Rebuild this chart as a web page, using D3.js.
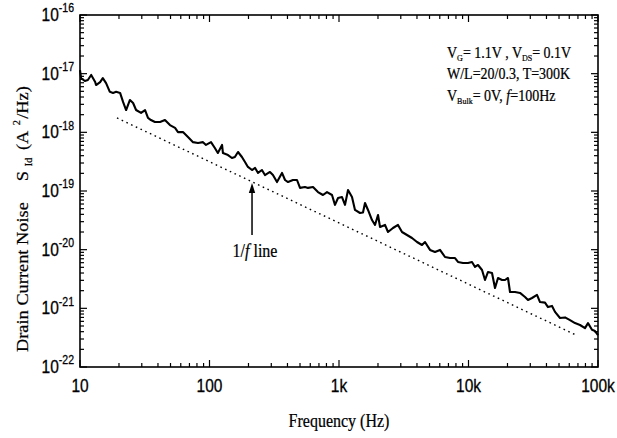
<!DOCTYPE html>
<html>
<head>
<meta charset="utf-8">
<script src="https://cdn.jsdelivr.net/npm/d3@7"></script>
<style>
  html, body { margin: 0; padding: 0; background: #fff; }
  svg { display: block; }
</style>
</head>
<body>
<svg id="chart" width="617" height="438"></svg>
<script>
// ---- Data ----
const freqHz = [10,10.2,10.9,11.5,12.2,13.1,13.3,14.3,15.0,15.9,17.0,18.0,19.0,20.4,21.5,22.7,24.3,25.7,27.1,29.6,31.8,33.5,35.3,37.9,41.5,45.3,49.5,54.2,57.1,62.4,68.2,74.6,81.5,89.1,94.0,102.7,110,116,125,127,139,149,157,166,178,188,198,213,225,237,254,268,293,309,332,363,383,404,441,474,500,546,576,630,688,752,808,883,931,983,1055,1113,1174,1260,1329,1453,1532,1588,1675,1798,1897,2001,2073,2266,2390,2612,2855,3065,3350,3662,4003,4375,4615,5044,5512,6025,6585,7196,7866,8297,9068,9911,10640,11230,11840,12720,13410,14150,15190,16020,16900,18150,19140,20180,20920,22870,24990,27320,28810,30930,33810,35660,38970,41110,44140,46560,50890,55630,60790,66440,72610,79350,83720,89880,94810,100000];
const noiseSId = [1.15e-17,8.4e-18,7.5e-18,7.8e-18,9.5e-18,7.2e-18,6.4e-18,7.2e-18,8.4e-18,6.9e-18,4.9e-18,4.7e-18,4.9e-18,4.7e-18,3.3e-18,2.4e-18,3.56e-18,3.16e-18,2.4e-18,2.14e-18,2.4e-18,1.76e-18,1.62e-18,1.5e-18,1.5e-18,1.62e-18,1.33e-18,1.19e-18,1.01e-18,1.01e-18,8.3e-19,6.8e-19,6.6e-19,6.8e-19,6.1e-19,6.8e-19,5.4e-19,4.44e-19,6.1e-19,4.44e-19,4.1e-19,3.65e-19,3.8e-19,4.62e-19,3.8e-19,3.12e-19,2.57e-19,2.28e-19,2.47e-19,2.03e-19,2.28e-19,1.87e-19,2.11e-19,1.87e-19,1.42e-19,2.03e-19,1.54e-19,1.42e-19,1.54e-19,1.54e-19,1.13e-19,1.17e-19,1.13e-19,1.17e-19,9.6e-20,8.55e-20,9.6e-20,8.55e-20,5.8e-20,7.6e-20,7.9e-20,5.8e-20,1.04e-19,7.9e-20,4.75e-20,4.22e-20,4.3e-20,6.25e-20,4.75e-20,3.2e-20,2.64e-20,3.9e-20,2.44e-20,2.64e-20,2.0e-20,2.34e-20,2.64e-20,2.0e-20,1.78e-20,1.58e-20,1.35e-20,1.2e-20,1.35e-20,9.9e-21,9.1e-21,9.9e-21,7.5e-21,7.2e-21,7.2e-21,6.17e-21,5.93e-21,5.93e-21,6.17e-21,5.07e-21,5.48e-21,4.5e-21,3.04e-21,4.17e-21,4.0e-21,2.22e-21,3.29e-21,3.04e-21,3.04e-21,3.29e-21,1.9e-21,1.9e-21,1.83e-21,1.56e-21,1.39e-21,1.5e-21,1.69e-21,1.28e-21,1.25e-21,1.05e-21,1.1e-21,8.7e-22,6.85e-22,7.0e-22,6.3e-22,5.6e-22,5.2e-22,4.6e-22,5.6e-22,4.3e-22,4.1e-22,3.5e-22];

// 1/f reference line endpoints
const refFreq = [19.3, 66000];
const refNoise = [1.76e-18, 3.6e-22];

// Arrow annotation (frequency, tail value, tip value)
const arrowFreq = 213;
const arrowNoise = [1.78e-20, 1.37e-19];

// Axis ticks
const xDomain = [10, 1e5];
const yDomain = [1e-22, 1e-16];
const xTickValues = [10, 100, 1000, 10000, 100000];
const xTickLabels = ["10", "100", "1k", "10k", "100k"];
const yTickValues = [1e-16, 1e-17, 1e-18, 1e-19, 1e-20, 1e-21, 1e-22];
const yTickExponents = ["-16", "-17", "-18", "-19", "-20", "-21", "-22"];

// ---- Layout ----
const W = 617, H = 438;
const L = 80, R = 598, T = 15, B = 367;
const SY = 1.16; // vertical stretch of glyphs in the reference
const svg = d3.select("#chart");
svg.append("rect").attr("width", W).attr("height", H).attr("fill", "#fff");

const x = d3.scaleLog().domain(xDomain).range([L, R]);
const y = d3.scaleLog().domain(yDomain).range([B, T]);

const serif = "'Liberation Serif','Times New Roman',Times,serif";
const sans = "'Liberation Sans',Arial,Helvetica,sans-serif";

// ---- Ticks on all four sides (inward) ----
const isMajor = v => Math.abs(Math.log10(v) - Math.round(Math.log10(v))) < 1e-9;
const xt = x.ticks();
const yt = y.ticks();
const tickG = svg.append("g").attr("stroke", "#000").attr("stroke-width", 1.2);
xt.forEach(v => {
  const len = isMajor(v) ? 7 : 4;
  const px = x(v);
  tickG.append("line").attr("x1", px).attr("x2", px).attr("y1", B).attr("y2", B - len);
  tickG.append("line").attr("x1", px).attr("x2", px).attr("y1", T).attr("y2", T + len);
});
yt.forEach(v => {
  const len = isMajor(v) ? 7 : 4;
  const py = y(v);
  tickG.append("line").attr("x1", L).attr("x2", L + len).attr("y1", py).attr("y2", py);
  tickG.append("line").attr("x1", R).attr("x2", R - len).attr("y1", py).attr("y2", py);
});

// Frame
svg.append("rect").attr("x", L).attr("y", T).attr("width", R - L).attr("height", B - T)
  .attr("fill", "none").attr("stroke", "#000").attr("stroke-width", 1.6);

// ---- Tick labels ----
xTickValues.forEach((v, i) => {
  svg.append("text")
    .attr("transform", `translate(${x(v)},${B + 25}) scale(1,${SY})`)
    .attr("text-anchor", "middle")
    .attr("font-family", sans).attr("font-size", 15.5)
    .attr("stroke", "#000").attr("stroke-width", 0.25)
    .text(xTickLabels[i]);
});
yTickValues.forEach((v, i) => {
  const t = svg.append("text")
    .attr("transform", `translate(${L - 6},${y(v) + 6}) scale(1,${SY})`)
    .attr("text-anchor", "end")
    .attr("font-family", sans).attr("font-size", 15.5)
    .attr("stroke", "#000").attr("stroke-width", 0.25);
  t.append("tspan").text("10");
  t.append("tspan").attr("font-size", 10.5).attr("dy", -7.5).text(yTickExponents[i]);
});

// ---- Axis titles ----
svg.append("text")
  .attr("transform", `translate(${(L + R) / 2},${B + 60}) scale(1,${SY})`)
  .attr("text-anchor", "middle")
  .attr("font-family", serif).attr("font-size", 16)
  .attr("stroke", "#000").attr("stroke-width", 0.2)
  .text("Frequency (Hz)");

const yl = svg.append("text")
  .attr("transform", `translate(28,352) rotate(-90) scale(1.08,1)`)
  .attr("font-family", serif).attr("font-size", 17)
  .attr("stroke", "#000").attr("stroke-width", 0.2);
yl.append("tspan").attr("x", 0).text("Drain Current Noise");
yl.append("tspan").attr("x", 158).text("S");
yl.append("tspan").attr("x", 172).attr("dy", 4).attr("font-size", 9.5).text("Id");
yl.append("tspan").attr("x", 187).attr("dy", -4).text("(A");
yl.append("tspan").attr("x", 210).attr("dy", -8).attr("font-size", 9.5).text("2");
yl.append("tspan").attr("x", 216).attr("dy", 8).text("/Hz)");

// ---- 1/f reference line (dotted) ----
const refData = refFreq.map((f, i) => ({ f, s: refNoise[i] }));
svg.append("path")
  .datum(refData)
  .attr("d", d3.line().x(d => x(d.f)).y(d => y(d.s)))
  .attr("fill", "none").attr("stroke", "#000").attr("stroke-width", 1.4)
  .attr("stroke-dasharray", "1.6,3.6");

// ---- Measured noise curve ----
const data = freqHz.map((f, i) => ({ f, s: noiseSId[i] }));
svg.append("path")
  .datum(data)
  .attr("d", d3.line().x(d => x(d.f)).y(d => y(d.s)))
  .attr("fill", "none").attr("stroke", "#000").attr("stroke-width", 2.1)
  .attr("stroke-linejoin", "round");

// ---- Arrow ----
const ax = x(arrowFreq), ay0 = y(arrowNoise[0]), ay1 = y(arrowNoise[1]);
svg.append("line").attr("x1", ax).attr("x2", ax).attr("y1", ay0).attr("y2", ay1 + 8)
  .attr("stroke", "#000").attr("stroke-width", 1.5);
svg.append("path")
  .attr("d", `M${ax},${ay1} L${ax - 3.2},${ay1 + 10} L${ax + 3.2},${ay1 + 10} Z`)
  .attr("fill", "#000");

const ft = svg.append("text")
  .attr("transform", `translate(${ax + 3},${ay0 + 22}) scale(1,${SY})`)
  .attr("text-anchor", "middle")
  .attr("font-family", serif).attr("font-size", 16)
  .attr("stroke", "#000").attr("stroke-width", 0.2);
ft.append("tspan").text("1/");
ft.append("tspan").attr("font-style", "italic").text("f");
ft.append("tspan").text(" line");

// ---- Condition annotation ----
function annLine(yb, build) {
  const t = svg.append("text")
    .attr("transform", `translate(447,${yb}) scale(1,${SY})`)
    .attr("font-family", serif).attr("font-size", 14)
    .attr("stroke", "#000").attr("stroke-width", 0.2);
  build(t);
}
annLine(57.5, t => {
  t.append("tspan").text("V");
  t.append("tspan").attr("font-size", 8).attr("dy", 3).text("G");
  t.append("tspan").attr("dy", -3).text("= 1.1V , V");
  t.append("tspan").attr("font-size", 8).attr("dy", 3).text("DS");
  t.append("tspan").attr("dy", -3).text("= 0.1V");
});
annLine(79.3, t => { t.append("tspan").text("W/L=20/0.3, T=300K"); });
annLine(101, t => {
  t.append("tspan").text("V");
  t.append("tspan").attr("font-size", 8).attr("dy", 3).text("Bulk");
  t.append("tspan").attr("dy", -3).text("= 0V, ");
  t.append("tspan").attr("font-style", "italic").text("f");
  t.append("tspan").text("=100Hz");
});
</script>
</body>
</html>
